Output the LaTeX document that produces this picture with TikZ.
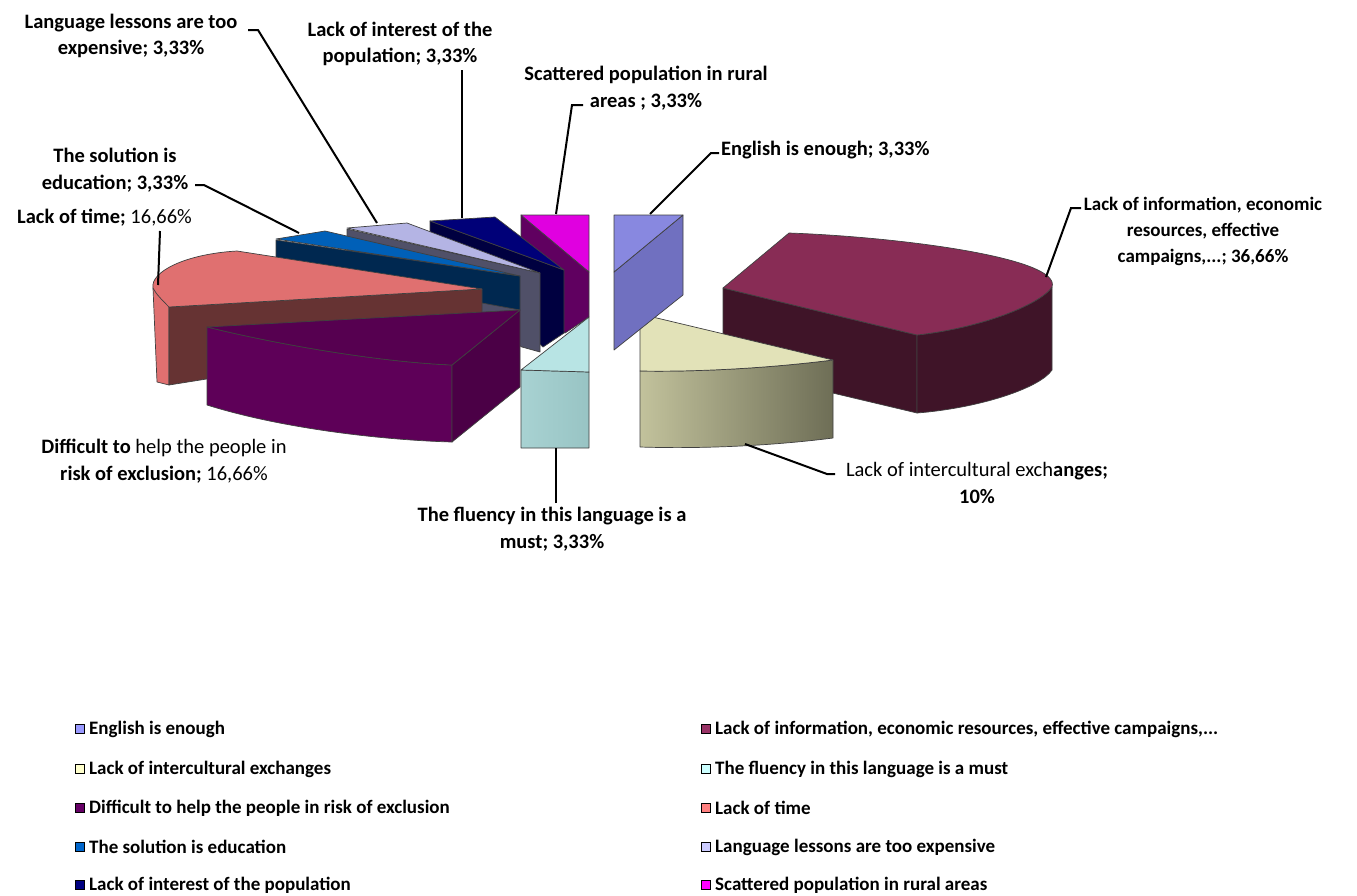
\documentclass[tikz,border=0pt]{standalone}
\usepackage{fontspec}
\setmainfont{Carlito}
\newcommand\lblfont{\fontsize{20.5}{26.5}\selectfont\bfseries}
\newcommand\lblsmall{\fontsize{19}{26}\selectfont\bfseries}
\newcommand\legfont{\fontsize{19}{21}\selectfont\bfseries}
\definecolor{cEng}{HTML}{8888E0}\definecolor{cEngS}{HTML}{7070C0}
\definecolor{cInf}{HTML}{882C55}\definecolor{cInfS}{HTML}{3F1428}
\definecolor{cIntT}{HTML}{E2E2B8}\definecolor{cIntL}{HTML}{C2C29C}\definecolor{cIntR}{HTML}{6E6E56}
\definecolor{cFluT}{HTML}{B8E4E4}\definecolor{cFluL}{HTML}{A8D2D2}\definecolor{cFluR}{HTML}{98C4C4}
\definecolor{cDifT}{HTML}{560050}\definecolor{cDifF}{HTML}{5E0058}\definecolor{cDifR}{HTML}{4B0046}
\definecolor{cTimT}{HTML}{E07070}\definecolor{cTimF}{HTML}{663333}
\definecolor{cSolT}{HTML}{0060B8}\definecolor{cSolF}{HTML}{002850}
\definecolor{cLesT}{HTML}{B4B4E4}\definecolor{cLesF}{HTML}{505068}
\definecolor{cIntrT}{HTML}{000078}\definecolor{cIntrF}{HTML}{000040}
\definecolor{cScaT}{HTML}{E000E0}\definecolor{cScaF}{HTML}{600060}
\definecolor{lEng}{HTML}{9999FF}\definecolor{lInf}{HTML}{993366}\definecolor{lInt}{HTML}{FFFFCC}
\definecolor{lFlu}{HTML}{CCFFFF}\definecolor{lDif}{HTML}{660066}\definecolor{lTim}{HTML}{FF8080}
\definecolor{lSol}{HTML}{0066CC}\definecolor{lLes}{HTML}{CCCCFF}\definecolor{lIntr}{HTML}{000080}
\definecolor{lSca}{HTML}{FF00FF}
\begin{document}
\begin{tikzpicture}[x=1pt,y=-1pt,
  face/.style={draw=black!75,line width=0.7pt,line join=round},
  lbl/.style={font=\lblfont,align=center,inner sep=0pt},
  lead/.style={draw=black,line width=2pt},
  sq/.style={draw=black,line width=1.3pt,minimum size=9pt,inner sep=0pt},
  leg/.style={font=\legfont,anchor=west,inner sep=0pt}]
\useasboundingbox[fill=white] (0,0) rectangle (1357,895);

% ---- Lack of information (maroon)
\fill[face,fill=cInfS] (723,288) -- (917,335) -- (917,413) -- (723,367) -- cycle;
\fill[face,fill=cInfS] (917,335) .. controls (980,328) and (1040,305) .. (1052,287)
   -- (1052,370) .. controls (1040,388) and (980,408) .. (917,413) -- cycle;
\fill[face,fill=cInf] (789,233) -- (723,288) -- (917,335) .. controls (980,328) and (1040,305) .. (1052,287)
   .. controls (1062,258) and (900,237) .. (789,233) -- cycle;

% ---- Lack of intercultural exchanges
\shadedraw[face,left color=cIntL,right color=cIntR] (640,371) .. controls (700,372) and (770,368) .. (833,360)
   -- (833,438) .. controls (770,446) and (700,449) .. (640,447) -- cycle;
\fill[face,fill=cIntT] (640,314) -- (833,360) .. controls (770,368) and (700,372) .. (640,371) -- cycle;

% ---- English is enough
\fill[face,fill=cEngS] (614,272) -- (683,215) -- (683,295) -- (614,350) -- cycle;
\fill[face,fill=cEng] (614,215) -- (683,215) -- (614,272) -- cycle;

% ---- Scattered population
\fill[face,fill=cScaF] (521,215) -- (589,272) -- (589,317) -- (565,333) -- (521,300) -- cycle;
\fill[face,fill=cScaT] (521,215) -- (589,215) -- (589,272) -- cycle;

% ---- Lack of interest
\fill[face,fill=cIntrF] (430,221) -- (564,270) -- (564,333) -- (543,347) -- (430,245) -- cycle;
\fill[face,fill=cIntrT] (430,221) -- (495,217) -- (564,270) -- cycle;

% ---- Language lessons
\fill[face,fill=cLesF] (347,229) -- (540,273) -- (540,352) -- (522,347) -- (347,255) -- cycle;
\fill[face,fill=cLesT] (347,228) -- (407,223) -- (540,273) -- cycle;

% ---- The solution is education
\fill[face,fill=cSolF] (276,240) -- (520,276) -- (520,310) -- (276,265) -- cycle;
\fill[face,fill=cSolT] (276,239) -- (325,231) -- (520,276) -- cycle;

% ---- Lack of time
\fill[face,fill=cTimT] (153,288) -- (169,307) -- (169,385) -- (157,382) -- cycle;
\fill[face,fill=cTimF] (169,307) -- (482,289) -- (482,335) -- (169,385) -- cycle;
\fill[face,fill=cTimT] (153,288) .. controls (150,272) and (185,254) .. (237,251) -- (482,289) -- (169,307)
   .. controls (162,300) and (156,294) .. (153,288) -- cycle;

% ---- Difficult to help
\fill[face,fill=cDifF] (207,327) .. controls (280,345) and (380,362) .. (452,365) -- (452,442)
   .. controls (380,440) and (280,428) .. (207,405) -- cycle;
\fill[face,fill=cDifR] (452,365) -- (520,310) -- (520,387) -- (452,442) -- cycle;
\fill[face,fill=cDifT] (207,327) -- (520,310) -- (452,365) .. controls (380,362) and (280,345) .. (207,327) -- cycle;

% ---- The fluency
\shadedraw[face,left color=cFluL,right color=cFluR] (521,370) -- (589,372) -- (589,448) -- (521,448) -- cycle;
\fill[face,fill=cFluT] (521,370) -- (589,317) -- (589,372) -- cycle;

% ---- Labels
\node[lbl] (tLes) at (131,36) {Language lessons are too\\expensive; 3,33\%};
\node[lbl] (tIntr) at (400,44) {Lack of interest of the\\population; 3,33\%};
\node[lbl] (tSca) at (646,88) {Scattered population in rural\\areas ; 3,33\%};
\node[lbl,anchor=west] (tEng) at (721,150) {English is enough; 3,33\%};
\node[lbl,font=\lblsmall] (tInf) at (1203,231) {Lack of information, economic\\resources, effective\\campaigns,...; 36,66\%};
\node[lbl] (tSol) at (115,170) {The solution is\\education; 3,33\%};
\node[lbl,anchor=west] (tTim) at (17,218) {Lack of time; \mdseries 16,66\%};
\node[lbl] (tDif) at (164,461) {Difficult to {\mdseries help the people in}\\risk of exclusion; {\mdseries 16,66\%}};
\node[lbl] (tFlu) at (552,529) {The fluency in this language is a\\must; 3,33\%};
\node[lbl] (tInt) at (977,483) {{\mdseries Lack of intercultural exch}anges;\\10\%};

% ---- Leader lines
\coordinate (aLes) at (377,223); \coordinate (kLes) at (258,30); \coordinate (sLes) at (248,30);
\draw[lead] (sLes) -- (kLes) -- (aLes);
\coordinate (aIntr) at (462,218); \coordinate (sIntr) at (462,70);
\draw[lead] (sIntr) -- (aIntr);
\coordinate (aSca) at (556,214); \coordinate (kSca) at (572,105); \coordinate (sSca) at (583,105);
\draw[lead] (sSca) -- (kSca) -- (aSca);
\coordinate (aEng) at (650,214); \coordinate (kEng) at (711,153); \coordinate (sEng) at (719,153);
\draw[lead] (sEng) -- (kEng) -- (aEng);
\coordinate (aInf) at (1046,277); \coordinate (kInf) at (1071,208); \coordinate (sInf) at (1081,208);
\draw[lead] (sInf) -- (kInf) -- (aInf);
\coordinate (aSol) at (299,233); \coordinate (kSol) at (204,185); \coordinate (sSol) at (195,185);
\draw[lead] (sSol) -- (kSol) -- (aSol);
\coordinate (aTim) at (158,285); \coordinate (sTim) at (160,231);
\draw[lead] (sTim) -- (aTim);
\coordinate (aFlu) at (556,448); \coordinate (sFlu) at (556,503);
\draw[lead] (sFlu) -- (aFlu);
\coordinate (aInt) at (745,444); \coordinate (kInt) at (827,474); \coordinate (sInt) at (835,474);
\draw[lead] (sInt) -- (kInt) -- (aInt);

% ---- Legend
\node[sq,fill=lEng]  (q1) at (80,729) {};  \node[leg] (g1) at (89,729) {English is enough};
\node[sq,fill=lInt]  (q3) at (80,769) {};  \node[leg] (g3) at (89,769) {Lack of intercultural exchanges};
\node[sq,fill=lDif]  (q5) at (80,808) {};  \node[leg] (g5) at (89,808) {Difficult to help the people in risk of exclusion};
\node[sq,fill=lSol]  (q7) at (80,847) {};  \node[leg] (g7) at (89,847) {The solution is education};
\node[sq,fill=lIntr] (q9) at (80,885) {};  \node[leg] (g9) at (89,885) {Lack of interest of the population};
\node[sq,fill=lInf]  (q2) at (706,729) {}; \node[leg] (g2) at (715,729) {Lack of information, economic resources, effective campaigns,...};
\node[sq,fill=lFlu]  (q4) at (706,769) {}; \node[leg] (g4) at (715,769) {The fluency in this language is a must};
\node[sq,fill=lTim]  (q6) at (706,808) {}; \node[leg] (g6) at (715,808) {Lack of time};
\node[sq,fill=lLes]  (q8) at (706,847) {}; \node[leg] (g8) at (715,847) {Language lessons are too expensive};
\node[sq,fill=lSca]  (q10) at (706,885) {}; \node[leg] (g10) at (715,885) {Scattered population in rural areas};
\end{tikzpicture}
\end{document}
